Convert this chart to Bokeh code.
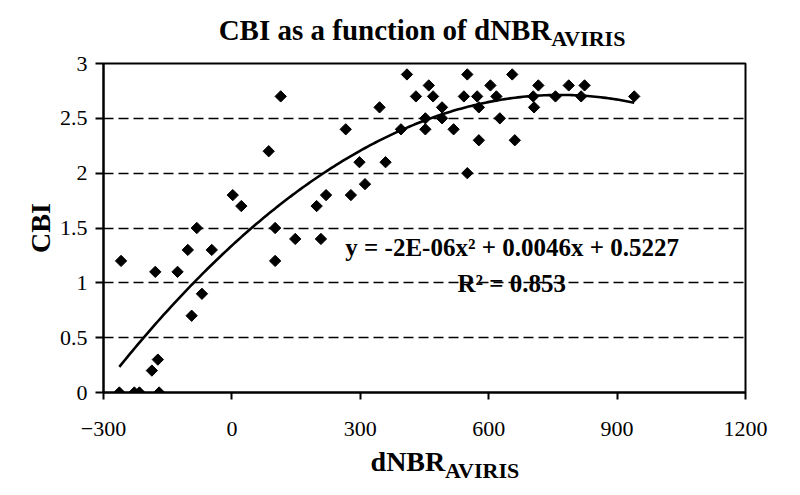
import numpy as np
from bokeh.plotting import figure
from bokeh.models import Range1d, Label, FixedTicker
from bokeh.embed import file_html
from bokeh.resources import INLINE

# Data
dnbr = [-263, -259, -228, -216, -170, -187, -173, -179, -127, -103, -94, -82, -70, -47,
        2, 22, 86, 114, 101, 101, 148, 198, 208, 220, 266, 278, 298, 311, 345, 359,
        395, 409, 430, 452, 452, 460, 470, 491, 491, 518, 542, 550, 550, 573, 577, 577,
        604, 618, 626, 655, 661, 704, 706, 716, 756, 787, 816, 824, 940]
cbi = [0, 1.2, 0, 0, 0, 0.2, 0.3, 1.1, 1.1, 1.3, 0.7, 1.5, 0.9, 1.3,
       1.8, 1.7, 2.2, 2.7, 1.5, 1.2, 1.4, 1.7, 1.4, 1.8, 2.4, 1.8, 2.1, 1.9, 2.6, 2.1,
       2.4, 2.9, 2.7, 2.4, 2.5, 2.8, 2.7, 2.6, 2.5, 2.4, 2.7, 2.9, 2.0, 2.7, 2.6, 2.3,
       2.8, 2.7, 2.5, 2.9, 2.3, 2.7, 2.6, 2.8, 2.7, 2.8, 2.7, 2.8, 2.7]
x_ticks = [-300, 0, 300, 600, 900, 1200]
y_ticks = [0, 0.5, 1, 1.5, 2, 2.5, 3]
title_main = "CBI as a function of dNBR"
title_sub = "AVIRIS"
x_label_main = "dNBR"
x_label_sub = "AVIRIS"
y_label = "CBI"
eq_text = "y = -2E-06x\u00b2 + 0.0046x + 0.5227"
r2_text = "R\u00b2 = 0.853"

SERIF = "Liberation Serif"

p = figure(width=800, height=495, title=None,
           x_range=Range1d(-300, 1200), y_range=Range1d(0, 3),
           output_backend="svg", toolbar_location=None,
           min_border_left=103, min_border_right=55,
           min_border_top=63, min_border_bottom=103)
p.background_fill_color = "white"
p.border_fill_color = "white"
p.outline_line_color = "black"
p.outline_line_width = 2

# grid
p.xgrid.visible = False
p.ygrid.ticker = FixedTicker(ticks=y_ticks)
p.ygrid.grid_line_color = "black"
p.ygrid.grid_line_width = 1.7
p.ygrid.grid_line_dash = "10 5"

# axes
for ax in (p.xaxis[0], p.yaxis[0]):
    ax.axis_line_color = "black"
    ax.axis_line_width = 2
    ax.major_tick_line_color = "black"
    ax.major_tick_line_width = 2
    ax.major_tick_in = 0
    ax.minor_tick_line_color = None
    ax.major_label_text_font = SERIF
    ax.major_label_text_font_size = "22px"
    ax.major_label_text_color = "black"

p.xaxis.ticker = FixedTicker(ticks=x_ticks)
p.xaxis.major_tick_out = 7
p.xaxis.major_label_standoff = 22
p.yaxis.ticker = FixedTicker(ticks=y_ticks)
p.yaxis.major_tick_out = 8
p.yaxis.major_label_standoff = 8

# trend line (2nd order polynomial fitted to the data, like the spreadsheet trendline)
coef = np.polyfit(dnbr, cbi, 2)
xs = np.linspace(min(dnbr), max(dnbr), 200)
p.line(xs, np.polyval(coef, xs), line_color="black", line_width=2.6)

# points
p.scatter(dnbr, cbi, marker="square", size=8, angle=np.pi / 4,
          fill_color="black", line_color="black")

def lab(x, y, text, size, place="center", align="left", angle=0.0):
    p.add_layout(Label(x=x, y=y, x_units="data", y_units="data", text=text,
                       text_font=SERIF, text_font_size=size,
                       text_font_style="bold",
                       text_color="black", text_align=align,
                       text_baseline="middle", angle=angle), place)

# title
lab(-31, 3.310, title_main, "29px", "above")
lab(746, 3.228, title_sub, "22px", "above")
# x axis label
lab(324, -0.629, x_label_main, "28px", "below")
lab(498, -0.711, x_label_sub, "22px", "below")
# y axis label
lab(-447, 1.5, y_label, "28px", "left", align="center", angle=np.pi / 2)
# equation
lab(265, 1.322, eq_text, "25px")
lab(527, 0.994, r2_text, "25px")

open("out.html", "w").write(file_html(p, INLINE))
